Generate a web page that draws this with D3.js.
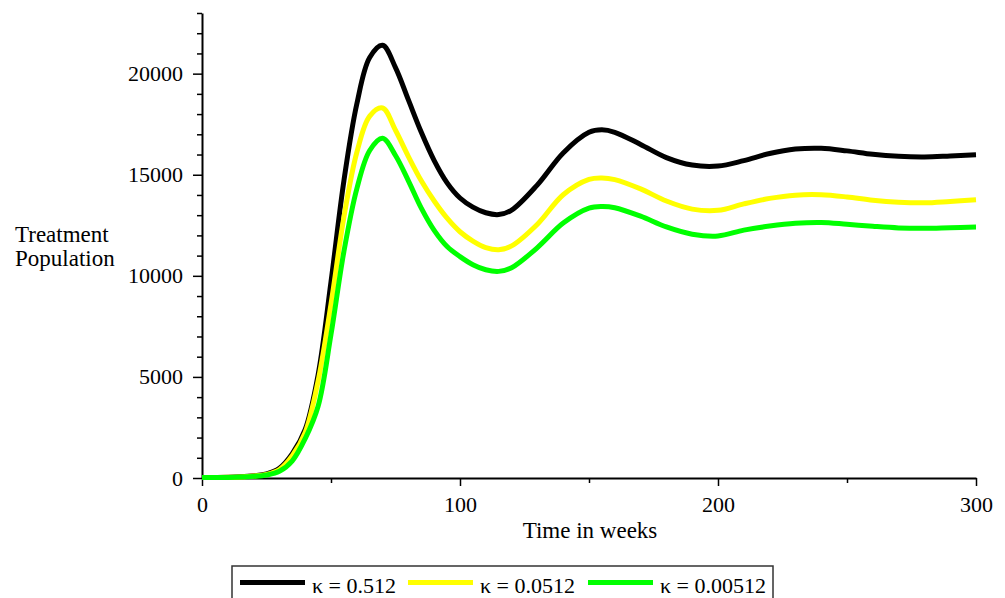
<!DOCTYPE html>
<meta charset="utf-8">
<style>
body { margin: 0; background: #fff; }
text { font-family: "Liberation Serif", "Times New Roman", serif; fill: #000; }
.tick text { font-size: 22px; font-family: "Liberation Serif", "Times New Roman", serif; }
.lbl { font-size: 23px; }
.leg { font-size: 22px; }
</style>
<svg width="1005" height="598"></svg>
<script src="https://d3js.org/d3.v7.min.js"></script>
<script>

var weeks = [0,5,10,15,20,25,30,35,40,45,50,55,60,65,70,75,80,85,90,95,100,105,110,115,120,
             130,140,150,155,160,170,180,190,200,210,220,230,240,250,260,270,280,290,300];

// kappa = 0.512
var kHigh = [20,25,35,60,110,200,480,1200,2400,5100,9700,14700,18500,20800,21400,20300,18700,17100,15700,14600,13850,13400,13120,13030,13250,
             14500,16080,17100,17220,17100,16500,15850,15480,15430,15700,16050,16270,16310,16180,16010,15910,15880,15930,15990];
// kappa = 0.0512
var kMid = [20,25,33,55,100,180,420,1100,2250,4800,8600,12900,16100,17900,18300,17200,15900,14700,13700,12850,12180,11720,11400,11290,11480,
            12550,14010,14770,14840,14760,14300,13700,13300,13240,13560,13830,13990,14010,13900,13740,13640,13610,13680,13760];
// kappa = 0.00512
var kLow = [20,25,30,45,80,150,330,850,1950,3550,7100,11200,14300,16200,16800,15950,14700,13350,12250,11450,10950,10550,10300,10220,10400,
            11400,12610,13350,13430,13370,12950,12420,12060,11970,12260,12460,12600,12640,12550,12450,12370,12350,12380,12410];

var seriesNames = ["0.512", "0.0512", "0.00512"];
var seriesColors = ["#000000", "#ffff00", "#00ff00"];
var xTicks = [0, 100, 200, 300],
    xMinor = [50, 150, 250],
    yTicks = [0, 5000, 10000, 15000, 20000];

var svg = d3.select("svg");

var x = d3.scaleLinear().domain([0, 300]).range([202, 976]),
    y = d3.scaleLinear().domain([0, 23000]).range([478, 13]);

// axes
var gx = svg.append("g").attr("transform", "translate(0,478)");
gx.call(d3.axisBottom(x).tickValues(xTicks).tickSize(8).tickPadding(10).tickSizeOuter(0));
gx.append("g").call(d3.axisBottom(x).tickValues(xMinor).tickSize(5).tickFormat(""))
  .select(".domain").remove();

var gy = svg.append("g").attr("transform", "translate(202,0)");
gy.call(d3.axisLeft(y).tickValues(yTicks).tickSize(9).tickPadding(10).tickSizeOuter(0)
  .tickFormat(d3.format("d")));
gy.append("g").call(d3.axisLeft(y).tickValues(d3.range(0, 23001, 1000).filter(function(d) { return d % 5000; }))
  .tickSize(5).tickFormat("")).select(".domain").remove();

svg.selectAll(".domain").attr("stroke-width", 2);
svg.selectAll(".tick line").attr("stroke-width", 1.5);

// curves
var rows = [kHigh, kMid, kLow];
var line = d3.line()
    .x(function(d) { return x(d[0]); })
    .y(function(d) { return y(d[1]); })
    .curve(d3.curveCatmullRom.alpha(0.5));

rows.forEach(function(vals, i) {
  svg.append("path")
      .datum(weeks.map(function(w, j) { return [w, vals[j]]; }))
      .attr("fill", "none")
      .attr("stroke", seriesColors[i])
      .attr("stroke-width", 5)
      .attr("d", line);
});

// axis titles
svg.append("text").attr("class", "lbl").attr("x", 590).attr("y", 538)
  .attr("text-anchor", "middle").text("Time in weeks");
svg.append("text").attr("class", "lbl").attr("x", 15).attr("y", 242).text("Treatment");
svg.append("text").attr("class", "lbl").attr("x", 15).attr("y", 266).text("Population");

// legend
svg.append("rect").attr("x", 232).attr("y", 566).attr("width", 541).attr("height", 40)
  .attr("fill", "none").attr("stroke", "#333").attr("stroke-width", 1.5);

var legX = [240, 408, 588];
seriesNames.forEach(function(name, i) {
  svg.append("line")
      .attr("x1", legX[i]).attr("x2", legX[i] + 65)
      .attr("y1", 582.5).attr("y2", 582.5)
      .attr("stroke", seriesColors[i]).attr("stroke-width", 5);
  var t = svg.append("text").attr("class", "leg")
      .attr("x", legX[i] + 72).attr("y", 593);
  t.append("tspan").text("\u03ba");
  t.append("tspan").text(" = " + name);
});

</script>
